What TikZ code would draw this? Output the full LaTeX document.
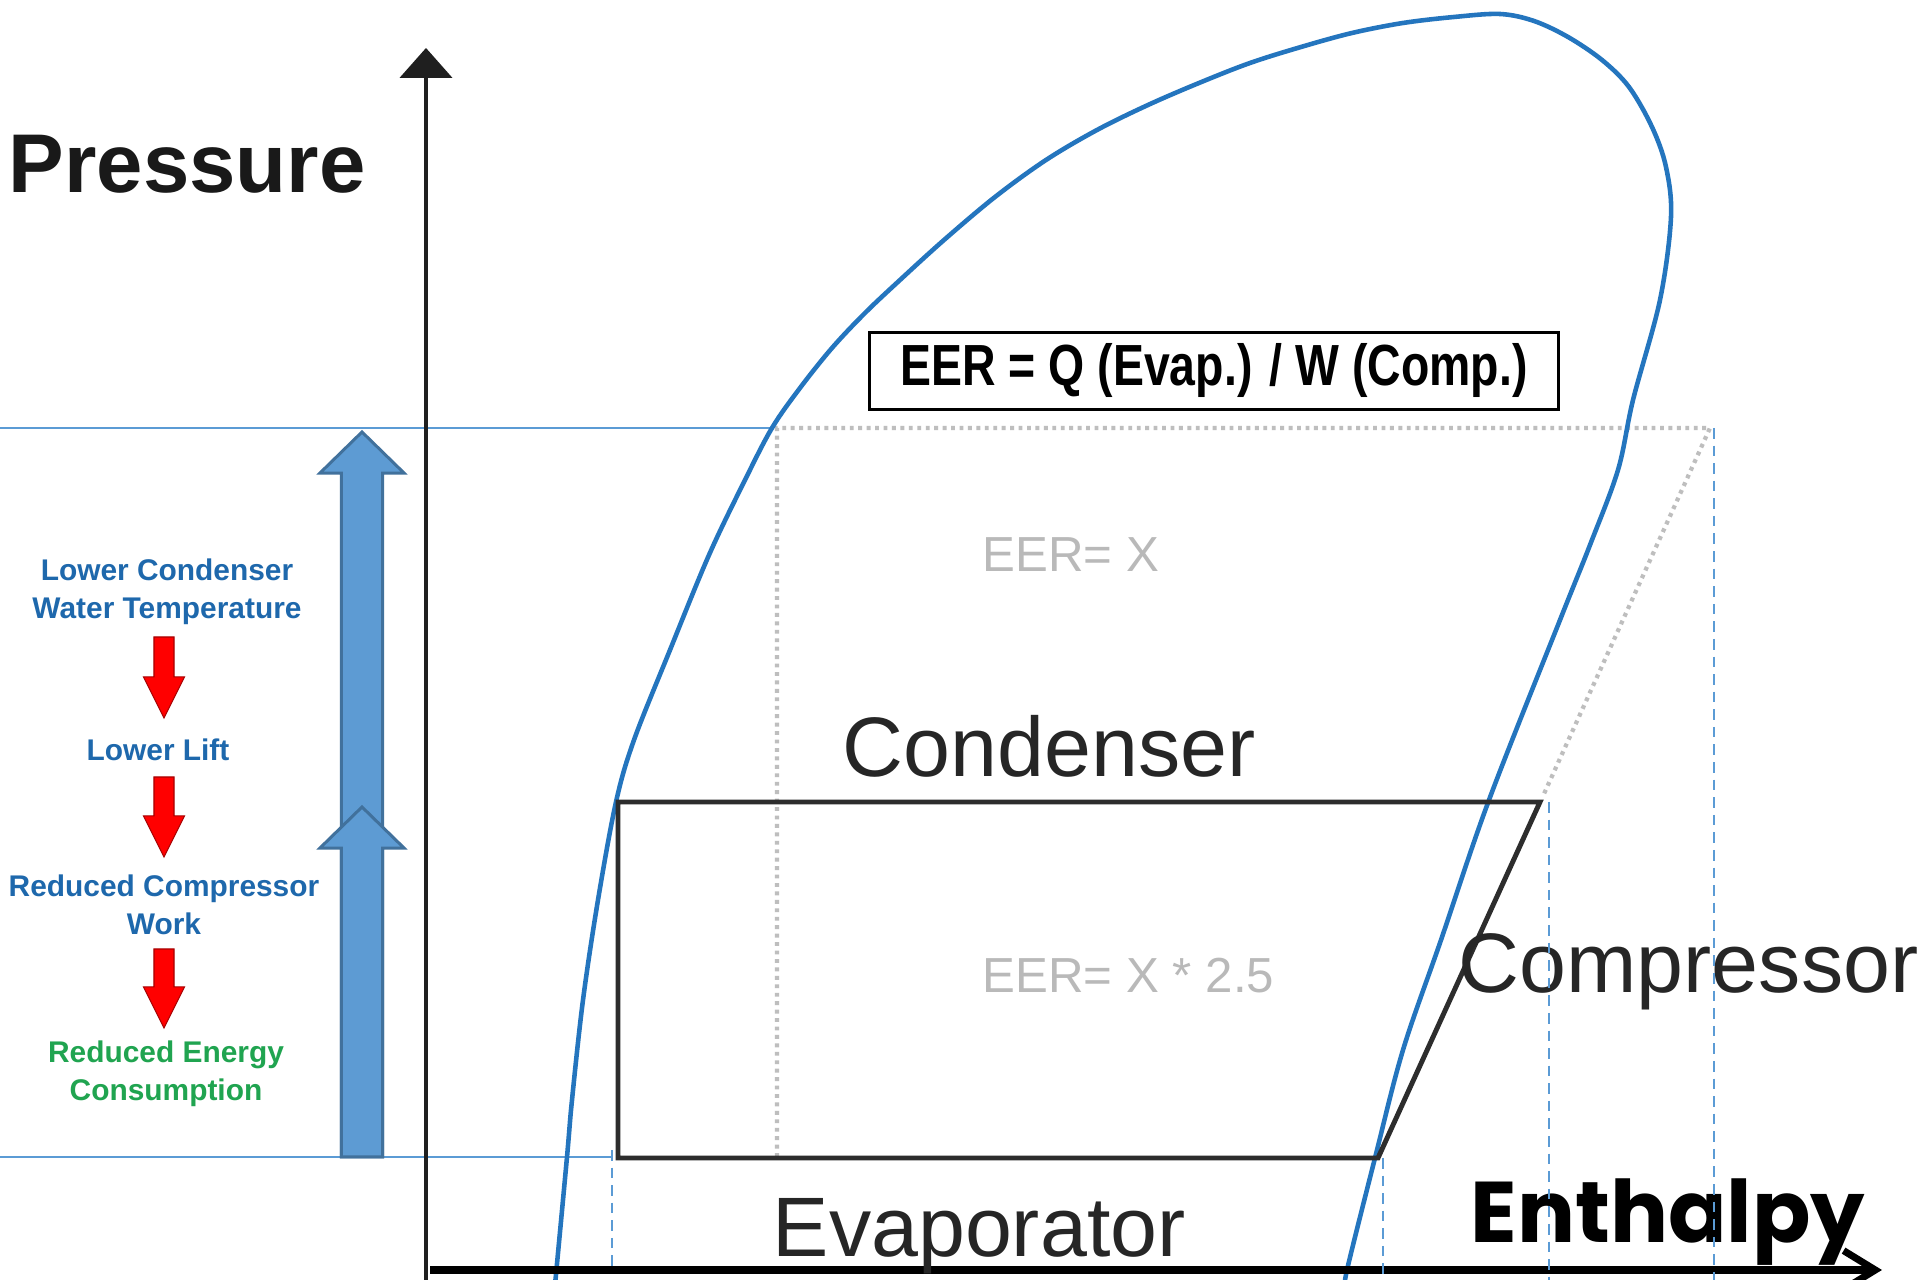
\documentclass[tikz,border=0pt]{standalone}
\usepackage{fontspec}
\setmainfont{Liberation Sans}
\newfontfamily\axisfont{Poppins}
\newfontfamily\eerfont[FakeStretch=0.8]{Liberation Sans}
\usepackage{xcolor}
\usepackage{tikz}
\usetikzlibrary{arrows.meta, calc}
\definecolor{domeblue}{RGB}{36, 117, 190}
\definecolor{guideblue}{RGB}{91, 155, 213}
\definecolor{liftfill}{RGB}{93, 155, 211}
\definecolor{liftedge}{RGB}{65, 113, 156}
\definecolor{flowblue}{RGB}{30, 104, 172}
\definecolor{flowgreen}{RGB}{32, 164, 80}
\definecolor{eergray}{RGB}{185, 185, 185}
\definecolor{cyclegray}{RGB}{45, 45, 45}
\definecolor{dotgray}{RGB}{190, 190, 190}

\begin{document}
\begin{tikzpicture}[
    x=0.01cm, y=-0.01cm,
    guide/.style={guideblue, line width=0.6pt},
    guidedash/.style={guideblue, line width=0.6pt, dash pattern=on 3pt off 2pt},
    isobar/.style={dotgray, line width=1.2pt, dash pattern=on 1.1pt off 1.3pt},
    dome/.style={domeblue, line width=1.3pt},
    cycleline/.style={cyclegray, line width=1.4pt, line join=miter},
    paxis/.style={black!88, line width=1.1pt, -{Triangle[length=8.5pt, width=14.8pt]}},
    haxis/.style={black, line width=2pt, -{Straight Barb[length=9pt, width=11pt]}},
    flowtext/.style={font=\bfseries\fontsize{8.5pt}{10.8pt}\selectfont,
                     align=center, inner sep=0pt, text=flowblue},
    parttext/.style={font=\fontsize{24pt}{28pt}\selectfont, text=black!85,
                     inner sep=0pt, anchor=base west},
    eertext/.style={font=\fontsize{14pt}{16pt}\selectfont, text=eergray,
                    inner sep=0pt, anchor=base west},
    liftup/.style={draw=liftedge, fill=liftfill, line width=0.85pt, line join=miter,
        to path={let \p1=(\tikztostart), \p2=(\tikztotarget) in
            (\x1-0.205cm,\y1) -- (\x1-0.205cm,\y2-0.41cm) -- (\x1-0.42cm,\y2-0.41cm)
            -- (\x2,\y2) -- (\x1+0.42cm,\y2-0.41cm) -- (\x1+0.205cm,\y2-0.41cm)
            -- (\x1+0.205cm,\y1) -- cycle}},
    stepdown/.style={draw=red!65!black, fill=red, line width=0.3pt, line join=miter,
        to path={let \p1=(\tikztostart), \p2=(\tikztotarget) in
            (\x1-0.1cm,\y1) -- (\x1-0.1cm,\y2+0.41cm) -- (\x1-0.205cm,\y2+0.41cm)
            -- (\x2,\y2) -- (\x1+0.205cm,\y2+0.41cm) -- (\x1+0.1cm,\y2+0.41cm)
            -- (\x1+0.1cm,\y1) -- cycle}}
]
    \fill[white] (0,0) rectangle (1920,1280);
    \useasboundingbox (0,0) rectangle (1920,1280);
    \clip (0,0) rectangle (1920,1280);

    % guide lines
    \draw[guide] (0,428) -- (772,428);
    \draw[guide] (0,1157) -- (612,1157);
    \draw[isobar] (777,1157) -- (777,428) -- (1710,428) -- (1543,796);

    % saturation dome
    \draw[dome] plot[smooth, tension=0.55] coordinates {
        (555,1285) (567,1157) (572,1100) (583,1000) (598,900) (616,802) (634,740)
        (670,650) (709,555) (745,480) (772,428) (800,388) (832,348) (865,313)
        (900,280) (944,240) (995,197) (1046,160) (1097,130) (1148,105) (1199,83)
        (1250,63) (1301,47) (1352,33) (1403,23) (1454,17) (1500,14) (1534,21)
        (1568,37) (1602,60) (1629,87) (1652,127) (1666,167) (1671,217)
        (1660,300) (1633,400) (1618,470) (1590,545) (1560,620) (1489,800)
        (1441,940) (1403,1050) (1375,1158) (1347,1270) (1346,1285)};

    % refrigeration cycle
    \coordinate (cond-l) at (618,802);
    \coordinate (cond-r) at (1540,802);
    \coordinate (evap-r) at (1378,1158);
    \coordinate (evap-l) at (618,1158);
    \draw[cycleline] (cond-l) -- (cond-r) -- (evap-r) -- (evap-l) -- cycle;

    % axes
    \coordinate (pbase) at (426,1285);
    \coordinate (ptop) at (426,48);
    \coordinate (hbase) at (430,1270);
    \coordinate (htop) at (1882,1270);
    \draw[paxis] (pbase) -- (ptop);
    \draw[haxis] (hbase) -- (htop);

    \node[font=\bfseries\fontsize{23.7pt}{28pt}\selectfont, text=black!90,
          inner sep=0pt, anchor=base west] (pressure) at (8,193) {Pressure};
    \node[font=\axisfont\bfseries\fontsize{24.5pt}{30pt}\selectfont,
          inner sep=0pt, anchor=base west] (enthalpy) at (1470,1243) {Enthalpy};

    \node[draw=black, line width=0.8pt, minimum width=6.88cm, minimum height=0.77cm,
          inner sep=0pt, font=\eerfont\bfseries\fontsize{16.5pt}{18pt}\selectfont]
          (eer) at (1214,371) {EER = Q (Evap.) / W (Comp.)};

    \node[eertext] (eer-old) at (982,572) {EER= X};
    \node[eertext] (eer-new) at (982,993) {EER= X * 2.5};
    \node[parttext] (condenser) at (842,777) {Condenser};
    \node[parttext] (compressor) at (1458,993) {Compressor};
    \node[parttext] (evaporator) at (772,1257) {Evaporator};

    % left flow
    \node[flowtext] (cwt) at (167,592) {Lower Condenser\\Water Temperature};
    \node[flowtext] (lift) at (158,750) {Lower Lift};
    \node[flowtext] (work) at (164,905) {Reduced Compressor\\Work};
    \node[flowtext, text=flowgreen] (energy) at (166,1074) {Reduced Energy\\Consumption};

    \coordinate (s1a) at (164,637);
    \coordinate (s1b) at (164,718);
    \coordinate (s2a) at (164,777);
    \coordinate (s2b) at (164,857);
    \coordinate (s3a) at (164,949);
    \coordinate (s3b) at (164,1028);
    \draw[stepdown] (s1a) to (s1b);
    \draw[stepdown] (s2a) to (s2b);
    \draw[stepdown] (s3a) to (s3b);

    \coordinate (liftlow) at (362,1157);
    \coordinate (lifthigh) at (362,432);
    \coordinate (liftmid) at (362,807);
    \draw[liftup] (liftlow) to (lifthigh);
    \draw[liftup] (liftlow) to (liftmid);

    % enthalpy markers
    \draw[guidedash] (1714,428) -- (1714,1285);
    \draw[guidedash] (1549,802) -- (1549,1285);
    \draw[guidedash] (612,1150) -- (612,1270);
    \draw[guidedash] (1383,1158) -- (1383,1285);
\end{tikzpicture}
\end{document}
